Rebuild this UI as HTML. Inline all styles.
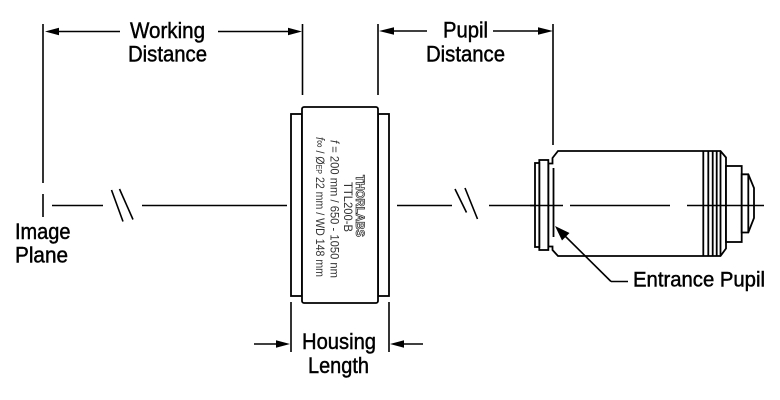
<!DOCTYPE html>
<html><head><meta charset="utf-8"><style>
html,body{margin:0;padding:0;background:#fff;}
svg{display:block;}
text{font-family:"Liberation Sans",sans-serif;fill:#000;}
</style></head><body>
<svg width="780" height="400" viewBox="0 0 780 400" xmlns="http://www.w3.org/2000/svg">
<g stroke="#000" stroke-width="1.6" fill="none">
  <!-- extension lines -->
  <line x1="43" y1="24" x2="43" y2="183"/>
  <line x1="43" y1="194" x2="43" y2="217"/>
  <line x1="302.5" y1="24" x2="302.5" y2="95"/>
  <line x1="378" y1="24" x2="378" y2="95"/>
  <line x1="553" y1="24" x2="553" y2="145"/>
  <line x1="291" y1="302" x2="291" y2="352"/>
  <line x1="389" y1="302" x2="389" y2="352"/>
  <!-- dimension lines -->
  <line x1="52" y1="31.5" x2="120" y2="31.5"/>
  <line x1="218" y1="31.5" x2="292" y2="31.5"/>
  <line x1="388" y1="31" x2="427" y2="31"/>
  <line x1="493" y1="31" x2="542" y2="31"/>
  <line x1="254" y1="344" x2="280" y2="344"/>
  <line x1="400" y1="344" x2="423" y2="344"/>
  <!-- axis -->
  <line x1="52" y1="205.5" x2="103" y2="205.5"/>
  <line x1="111.5" y1="190" x2="123" y2="221.5"/>
  <line x1="119.5" y1="189" x2="133" y2="219.5"/>
  <line x1="142" y1="205.5" x2="287" y2="205.5"/>
  <line x1="397" y1="205.5" x2="452" y2="205.5"/>
  <line x1="455" y1="189" x2="466.5" y2="212.5"/>
  <line x1="465" y1="188" x2="477.5" y2="219"/>
  <line x1="489" y1="205.5" x2="563" y2="205.5"/>
</g>
<!-- arrowheads -->
<g fill="#000" stroke="none">
  <polygon points="45,31.5 59,27.8 59,35.2"/>
  <polygon points="302,31.5 288,27.8 288,35.2"/>
  <polygon points="379,31 394,27.3 394,34.7"/>
  <polygon points="553,31 538,27.3 538,34.7"/>
  <polygon points="290,344 276,340.3 276,347.7"/>
  <polygon points="390,344 404,340.3 404,347.7"/>
</g>
<!-- housing -->
<g stroke="#000" stroke-width="1.8" fill="#fff">
  <rect x="291" y="114" width="11" height="182"/>
  <rect x="378" y="114" width="11" height="182"/>
  <rect x="302" y="107" width="76" height="196" rx="2"/>
</g>
<g>
  <text transform="translate(356,206) rotate(90)" text-anchor="middle" font-size="11.5" font-weight="bold" textLength="62" lengthAdjust="spacingAndGlyphs" style="fill:#fff;stroke:#222;stroke-width:0.7">THORLABS</text>
  <text transform="translate(344,207) rotate(90)" text-anchor="middle" font-size="12" textLength="50" lengthAdjust="spacingAndGlyphs" style="fill:#333">TTL200-B</text>
  <text transform="translate(330.5,209) rotate(90)" text-anchor="middle" font-size="12" textLength="138" lengthAdjust="spacingAndGlyphs" style="fill:#333"><tspan font-style="italic">f</tspan> = 200 mm / 650 - 1050 nm</text>
  <text transform="translate(316,207) rotate(90)" text-anchor="middle" font-size="12" textLength="140" lengthAdjust="spacingAndGlyphs" style="fill:#333"><tspan font-style="italic">f</tspan>∞ / Ø<tspan font-size="8">EP</tspan> 22 mm / WD 148 mm</text>
</g>
<!-- objective -->
<g stroke="#000" stroke-width="1.8" fill="#fff" stroke-linejoin="miter">
  <path d="M548.3,163.5 L552.5,163.5 L552.5,158 L558,151 L720.5,151 L726,157.5 L726,248.5 L720.5,256 L558,256 L552.5,250 L552.5,246.5 L548.3,246.5 Z"/>
  <rect x="539.3" y="160" width="9" height="90"/>
  <rect x="535" y="163" width="4.3" height="84"/>
  <rect x="726" y="166" width="15.7" height="76"/>
  <path d="M741.7,174.3 L748.3,174.3 L754,188 L754,218 L748.3,232.5 L741.7,232.5 Z"/>
  <line x1="748.3" y1="174.3" x2="748.3" y2="232.5"/>
  <line x1="703.3" y1="151" x2="703.3" y2="256"/>
  <line x1="708.3" y1="151" x2="708.3" y2="256"/>
  <line x1="712.7" y1="151" x2="712.7" y2="256"/>
  <line x1="716.7" y1="151" x2="716.7" y2="256"/>
  <line x1="720.5" y1="151" x2="720.5" y2="256"/>
  <line x1="553.5" y1="168" x2="553.5" y2="237" stroke-width="1.8"/>
</g>
<g stroke="#000" stroke-width="1.6" fill="none">
  <line x1="530" y1="205.5" x2="563" y2="205.5"/>
  <line x1="570" y1="205.5" x2="670" y2="205.5"/>
  <line x1="687" y1="205.5" x2="764" y2="205.5"/>
  <!-- leader -->
  <line x1="560" y1="231" x2="611" y2="281.5"/>
  <line x1="611" y1="281.5" x2="628" y2="281.5"/>
</g>
<polygon points="555,226 569.5,233 562,240.5" fill="#000"/>
<!-- labels -->
<g font-size="22" style="stroke:#000;stroke-width:0.45">
  <text x="130" y="38" textLength="75" lengthAdjust="spacingAndGlyphs">Working</text>
  <text x="128" y="61.5" textLength="79" lengthAdjust="spacingAndGlyphs">Distance</text>
  <text x="443" y="37.5" textLength="45" lengthAdjust="spacingAndGlyphs">Pupil</text>
  <text x="426" y="61.5" textLength="79" lengthAdjust="spacingAndGlyphs">Distance</text>
  <text x="15" y="239" textLength="55.5" lengthAdjust="spacingAndGlyphs">Image</text>
  <text x="15" y="262.5" textLength="53" lengthAdjust="spacingAndGlyphs">Plane</text>
  <text x="302" y="349" textLength="74" lengthAdjust="spacingAndGlyphs">Housing</text>
  <text x="308" y="373" textLength="61" lengthAdjust="spacingAndGlyphs">Length</text>
  <text x="633" y="286.5" font-size="21" textLength="132" lengthAdjust="spacingAndGlyphs">Entrance Pupil</text>
</g>
</svg>
</body></html>
